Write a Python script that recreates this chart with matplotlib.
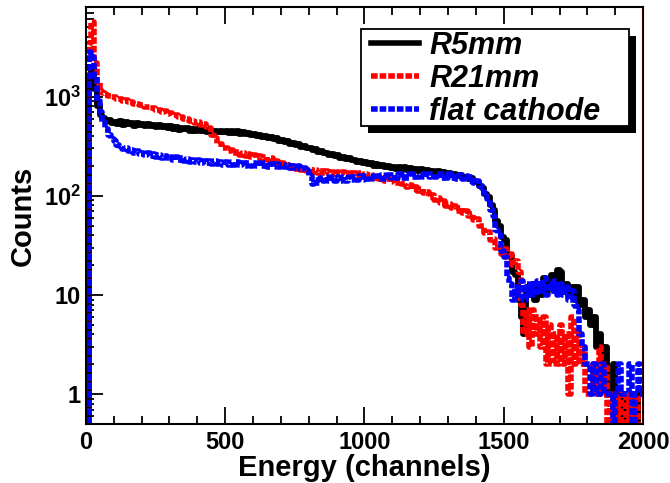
import numpy as np
import matplotlib
matplotlib.use('Agg')
import matplotlib.pyplot as plt
from matplotlib.ticker import FixedLocator, LogLocator, MultipleLocator, NullFormatter, FixedFormatter
from matplotlib.patches import Rectangle
from matplotlib.lines import Line2D

plt.rcParams['font.family'] = ['Liberation Sans', 'DejaVu Sans']
plt.rcParams['font.weight'] = 'bold'
plt.rcParams['mathtext.fontset'] = 'custom'
plt.rcParams['mathtext.rm'] = 'Liberation Sans:bold'
plt.rcParams['mathtext.default'] = 'rm'

# histogram binning (channels)
bin_width = 10
n_channels = 2000

# counts per 10-channel bin
r5mm = [
    0, 1500, 2000, 1200, 800, 650, 610, 570, 580, 540,
    560, 530, 565, 520, 555, 525, 545, 510, 540, 520,
    535, 505, 530, 500, 520, 490, 515, 495, 505, 480,
    500, 475, 495, 465, 485, 470, 480, 455, 475, 455,
    470, 450, 465, 440, 460, 445, 455, 435, 450, 440,
    455, 430, 450, 425, 445, 420, 440, 415, 430, 410,
    420, 400, 410, 395, 400, 380, 390, 370, 380, 360,
    365, 345, 355, 335, 340, 325, 330, 312, 320, 300,
    305, 290, 295, 278, 285, 268, 272, 258, 265, 250,
    255, 242, 248, 235, 240, 228, 232, 220, 226, 214,
    218, 207, 212, 202, 208, 198, 204, 194, 200, 190,
    197, 188, 195, 185, 193, 183, 190, 181, 188, 179,
    185, 176, 182, 173, 179, 171, 176, 168, 173, 165,
    170, 162, 166, 157, 161, 152, 156, 146, 150, 140,
    138, 126, 120, 104, 97, 80, 72, 56, 50, 38,
    36, 26, 25, 17, 16, 9, 6, 4, 12, 10,
    13, 9, 12, 10, 15, 11, 13, 16, 11, 18,
    17, 12, 13, 10, 12, 9, 12, 8, 9, 6,
    7, 5, 6, 3, 4, 2, 3, 1, 1, 2,
    0, 1, 0, 1, 0, 1, 0, 0, 1, 1,
]

r21mm = [
    0, 3500, 5700, 2200, 1400, 1150, 1090, 1030, 1020, 980,
    990, 950, 950, 910, 915, 875, 880, 845, 850, 815,
    820, 785, 790, 760, 765, 730, 735, 705, 710, 675,
    680, 650, 655, 620, 625, 590, 600, 565, 570, 540,
    550, 520, 525, 490, 480, 410, 380, 330, 330, 300,
    305, 282, 290, 268, 278, 258, 270, 250, 262, 245,
    255, 240, 250, 235, 245, 228, 238, 220, 226, 208,
    215, 200, 205, 192, 198, 186, 192, 182, 188, 178,
    184, 174, 180, 171, 178, 170, 176, 168, 175, 167,
    174, 166, 172, 164, 171, 163, 170, 162, 168, 160,
    166, 157, 162, 150, 156, 146, 151, 141, 146, 137,
    143, 134, 140, 130, 134, 123, 128, 118, 122, 112,
    117, 106, 110, 98, 102, 91, 94, 84, 88, 79,
    83, 75, 79, 71, 75, 67, 70, 63, 66, 57,
    58, 50, 50, 42, 43, 36, 37, 30, 32, 26,
    29, 24, 26, 20, 22, 17, 8, 4, 7, 3,
    7, 4, 6, 3, 6, 2, 5, 2, 4, 2,
    5, 2, 4, 1, 6, 2, 4, 2, 3, 1,
    1, 1, 2, 1, 3, 1, 2, 0, 1, 0,
    1, 0, 1, 1, 0, 1, 0, 1, 0, 0,
]
# overflow spike in the last R21mm channel
r21mm_last = 20000

flat_cathode = [
    0, 2800, 2500, 1600, 900, 700, 560, 470, 410, 370,
    355, 325, 320, 295, 300, 280, 290, 270, 280, 262,
    272, 255, 268, 250, 262, 245, 258, 242, 252, 238,
    248, 232, 245, 228, 240, 225, 236, 220, 232, 218,
    228, 214, 226, 212, 224, 210, 222, 208, 220, 206,
    220, 205, 218, 204, 218, 203, 216, 202, 215, 201,
    214, 200, 213, 198, 212, 197, 210, 195, 208, 194,
    206, 193, 204, 191, 202, 189, 200, 186, 192, 178,
    160, 130, 145, 135, 152, 140, 155, 142, 154, 141,
    154, 141, 153, 142, 155, 143, 156, 144, 157, 145,
    158, 146, 159, 147, 160, 148, 161, 149, 162, 150,
    163, 151, 164, 152, 165, 152, 165, 153, 166, 153,
    166, 153, 166, 153, 166, 153, 166, 152, 165, 152,
    165, 151, 164, 149, 162, 146, 158, 142, 153, 136,
    140, 126, 120, 100, 92, 72, 62, 45, 40, 28,
    24, 15, 13, 9, 12, 10, 14, 9, 13, 10,
    13, 10, 14, 11, 15, 10, 13, 11, 14, 10,
    13, 10, 12, 9, 11, 8, 7, 4, 3, 2,
    2, 1, 2, 1, 1, 2, 1, 1, 1, 0,
    1, 2, 1, 1, 1, 2, 0, 1, 2, 1,
]

labels = ['R5mm', 'R21mm', 'flat cathode']
colors = ['black', 'red', 'blue']
styles = ['-', (0, (1.2, 0.35)), (0, (1.2, 0.35))]
widths = [4.2, 4.0, 4.0]

yticks = [1, 10, 100, 1000]
ytick_labels = ['1', '10', r'$10^{2}$', r'$10^{3}$']

edges = np.arange(0, n_channels + bin_width, bin_width)

fig = plt.figure(figsize=(6.7, 4.83), dpi=100)
ax = fig.add_axes([0.128, 0.122, 0.832, 0.8635])

for vals, c, ls, lw in zip([r5mm, r21mm, flat_cathode], colors, styles, widths):
    y = np.append(np.array(vals, dtype=float), vals[-1])
    ax.step(edges, y, where='post', color=c, lw=lw, ls=ls)
ax.vlines(edges[-1], 0.5, r21mm_last, color='red', lw=1.0, zorder=3)

ax.set_yscale('log')
ax.set_xlim(0, n_channels)
ax.set_ylim(0.5, 8000)

ax.xaxis.set_major_locator(MultipleLocator(500))
ax.xaxis.set_minor_locator(MultipleLocator(100))
ax.yaxis.set_major_locator(FixedLocator(yticks))
ax.yaxis.set_major_formatter(FixedFormatter(ytick_labels))
ax.yaxis.set_minor_locator(LogLocator(base=10, subs=np.arange(2, 10), numticks=20))
ax.yaxis.set_minor_formatter(NullFormatter())

ax.tick_params(which='both', direction='in', top=True, right=False, width=1.3, labelsize=17)
ax.tick_params(which='major', length=12)
ax.tick_params(which='minor', length=6)
ax.tick_params(axis='x', pad=5)
for s in ax.spines.values():
    s.set_linewidth(1.5)

ax.set_xlabel('Energy (channels)', fontsize=21, fontweight='bold', labelpad=0)
ax.set_ylabel('Counts', fontsize=21, fontweight='bold', labelpad=5)

# legend box (ROOT TLegend with drop shadow), drawn by hand
box_x, box_y, box_w, box_h = 0.494, 0.715, 0.481, 0.233
ax.add_patch(Rectangle((box_x + 0.0126, box_y - 0.0168), box_w, box_h, transform=ax.transAxes,
                       facecolor='black', edgecolor='none', clip_on=False, zorder=5))
ax.add_patch(Rectangle((box_x, box_y), box_w, box_h, transform=ax.transAxes,
                       facecolor='white', edgecolor='black', lw=1.3, clip_on=False, zorder=5.1))

handles = [Line2D([], [], color=c, lw=4, ls=ls) for c, ls in zip(colors, styles)]
leg = ax.legend(handles, labels, loc='upper left', bbox_to_anchor=(0.512, 0.943),
                borderaxespad=0, frameon=False,
                prop={'family': 'Liberation Sans', 'weight': 'bold', 'style': 'italic', 'size': 22},
                handlelength=1.55, handletextpad=0.35, labelspacing=0.1, borderpad=0.0)
leg.set_zorder(6)

fig.savefig('out.png', dpi=100, facecolor='white')
